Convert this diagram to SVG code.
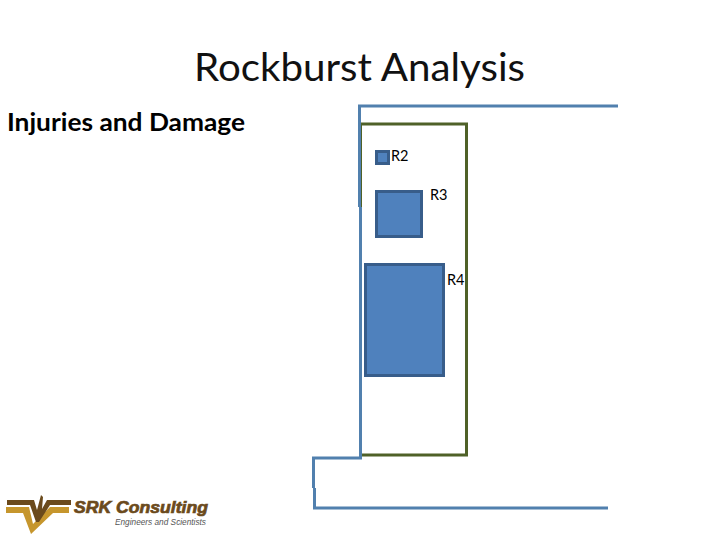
<svg xmlns="http://www.w3.org/2000/svg" width="720" height="540" viewBox="0 0 720 540">
<style>
text{font-family:Lato,"Open Sans","Liberation Sans",sans-serif;fill:#000}
.title{font-size:39px;fill:#111}
.head{font-size:24px;font-weight:bold}
.lbl{font-size:14.5px}
.box{fill:#4f81bd;stroke:#385d8a;stroke-width:3}
.blue{fill:none;stroke:#5180ae;stroke-width:3}
.olive{fill:none;stroke:#4f6128;stroke-width:3}
</style>
<rect width="720" height="540" fill="#fff"/>
<text class="title" x="194" y="81" textLength="331" lengthAdjust="spacingAndGlyphs">Rockburst Analysis</text>
<text class="head" x="7" y="131" textLength="238" lengthAdjust="spacingAndGlyphs">Injuries and Damage</text>
<g id="frame"><rect class="olive" x="360.500" y="124" width="106" height="331"/></g>
<g id="connectors">
<path class="blue" d="M618 106H359.500V207"/>
<path class="blue" d="M360.500 207V458H313.500V488"/>
<path class="blue" d="M314.500 488V508H608"/>
</g>
<g id="r2"><rect class="box" x="376.500" y="151.500" width="12" height="12"/><text class="lbl" x="391" y="161">R2</text></g>
<g id="r3"><rect class="box" x="376.500" y="191.500" width="45" height="45"/><text class="lbl" x="430" y="200">R3</text></g>
<g id="r4"><rect class="box" x="365.500" y="264.500" width="78" height="111"/><text class="lbl" x="447" y="285">R4</text></g>
<g id="logo">
<path fill="#c6962d" d="M6 507H29L33 524L50 507H69V513H53L31 534L23 513H6Z"/>
<path fill="#6b4a1c" d="M7 500H34L37 510L41 495L43 497L42 509L47 500H71V505H50L39 522L36 522L30 505H7Z"/>
<text x="74" y="513" font-size="16.500" font-weight="900" font-style="italic" stroke="#6b4a1c" stroke-width="0.700" style="fill:#6b4a1c;font-family:'Liberation Sans',sans-serif" textLength="134" lengthAdjust="spacingAndGlyphs">SRK Consulting</text>
<text x="115" y="525" font-size="9" font-style="italic" style="fill:#555;font-family:'Liberation Sans',sans-serif" textLength="91" lengthAdjust="spacingAndGlyphs">Engineers and Scientists</text>
</g>
</svg>
